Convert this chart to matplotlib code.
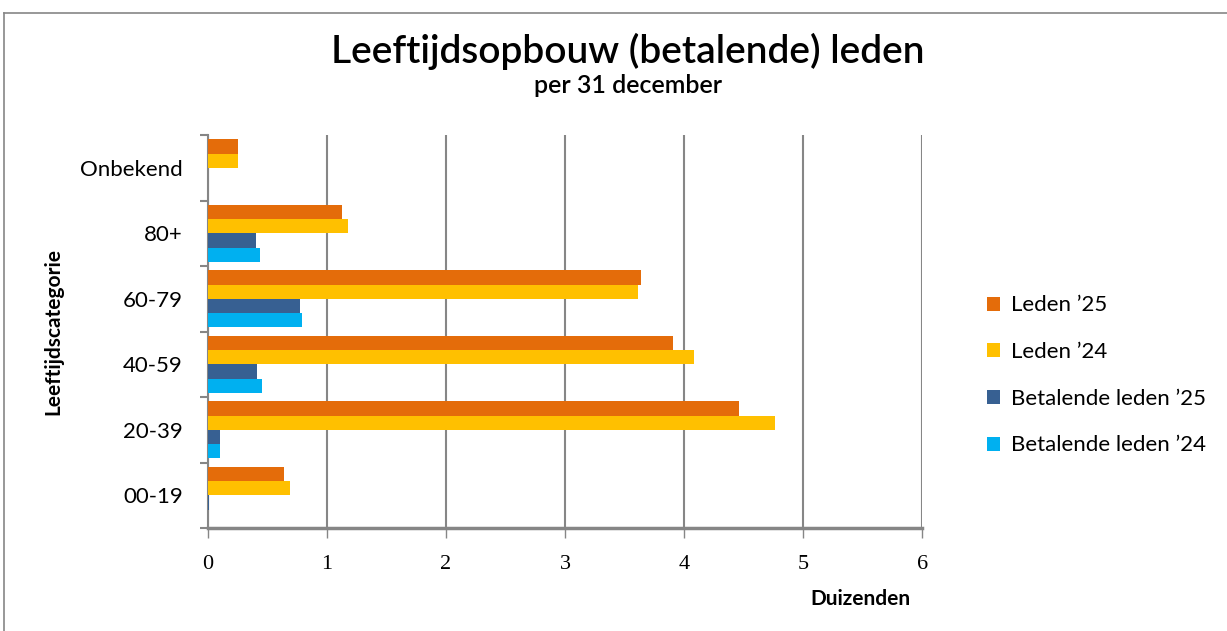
import numpy as np
import matplotlib
matplotlib.use("Agg")
import matplotlib.pyplot as plt
from matplotlib.lines import Line2D

categories = ["00-19", "20-39", "40-59", "60-79", "80+", "Onbekend"]
leden_25 = [0.64, 4.46, 3.91, 3.64, 1.13, 0.25]
leden_24 = [0.69, 4.76, 4.08, 3.61, 1.18, 0.25]
betalend_25 = [0.005, 0.10, 0.41, 0.77, 0.40, 0.0]
betalend_24 = [0.0, 0.10, 0.45, 0.79, 0.44, 0.0]
series_names = ["Leden \u201925", "Leden \u201924", "Betalende leden \u201925", "Betalende leden \u201924"]
colors = ["#E46C0A", "#FFC000", "#376092", "#00B0F0"]
x_ticks = [0, 1, 2, 3, 4, 5, 6]

plt.rcParams['font.family'] = ['Lato', 'DejaVu Sans']

fig = plt.figure(figsize=(12.27, 6.31), dpi=100)
ax = fig.add_axes([0.1695, 0.163, 0.582, 0.623])

y = np.arange(len(categories))
h = 0.217
series = [leden_25, leden_24, betalend_25, betalend_24]
offsets = [1.5 * h, 0.5 * h, -0.5 * h, -1.5 * h]
handles = []
for vals, off, col, name in zip(series, offsets, colors, series_names):
    b = ax.barh(y + off, vals, height=h, color=col, label=name, zorder=3)
    handles.append(b)

ax.set_xlim(0, 6)
ax.set_ylim(-0.5, len(categories) - 0.5)
ax.set_xticks(x_ticks)
ax.set_xticklabels([str(t) for t in x_ticks], family='Liberation Serif', fontsize=16)
ax.xaxis.grid(True, color='#868686', linewidth=1.5, zorder=0)

# category labels in the middle, tick marks at boundaries
ax.set_yticks(y)
ax.set_yticklabels(categories, fontsize=16)
ax.tick_params(axis='y', length=0, pad=18)
ax.set_yticks(np.arange(len(categories) + 1) - 0.5, minor=True)
ax.tick_params(axis='y', which='minor', length=6, color='#868686', width=1.5)
ax.tick_params(axis='x', length=7, color='#868686', width=1, pad=12)

for s in ['top', 'right']:
    ax.spines[s].set_visible(False)
ax.spines['left'].set_color('#868686')
ax.spines['left'].set_linewidth(1.5)
ax.spines['bottom'].set_color('#868686')
ax.spines['bottom'].set_linewidth(2.5)

ax.set_ylabel("Leeftijdscategorie", fontsize=15, fontweight='bold', labelpad=12)
fig.text(0.701, 0.05, "Duizenden", fontsize=15, fontweight='bold', ha='center', va='center')

fig.text(0.512, 0.919, "Leeftijdsopbouw (betalende) leden", fontsize=28, fontweight='semibold',
         ha='center', va='center')
fig.text(0.512, 0.864, "per 31 december", fontsize=18, fontweight='semibold', ha='center', va='center')

fig.legend(handles=handles, loc='center left', bbox_to_anchor=(0.797, 0.405),
           frameon=False, fontsize=16, handlelength=0.6, handleheight=0.6,
           handletextpad=0.5, labelspacing=1.2, borderaxespad=0)

# outer chart border
fig.add_artist(Line2D([0.0033, 1.0], [0.979, 0.979], color='#868686', linewidth=1.2, transform=fig.transFigure))
fig.add_artist(Line2D([0.0033, 0.0033], [0.0, 0.979], color='#868686', linewidth=1.2, transform=fig.transFigure))

fig.savefig("out.png", dpi=100)
